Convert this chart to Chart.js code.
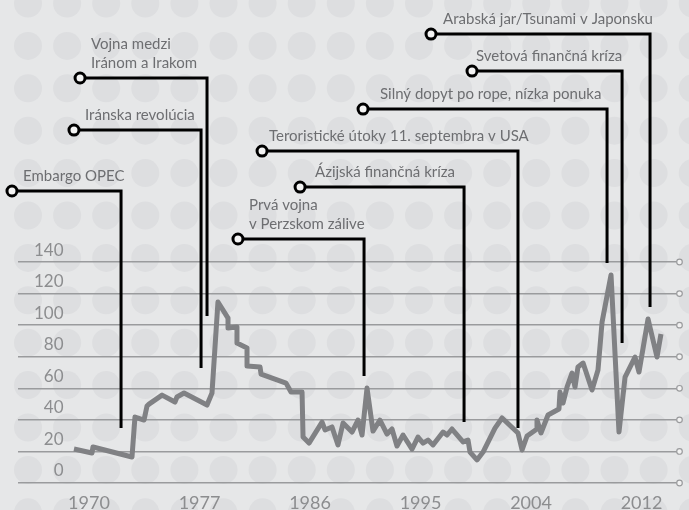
<!DOCTYPE html>
<html>
<head>
<meta charset="utf-8">
<script src="https://cdn.jsdelivr.net/npm/chart.js@4"></script>
<style>
  html, body { margin: 0; padding: 0; background: #e6e7e8; }
</style>
</head>
<body>
<canvas id="myChart" width="689" height="510"></canvas>
<script>
// x runs in label steps: 0 = 1970, 1 = 1977, 2 = 1986 ... 5 = 2012
const yearLabels = ['1970', '1977', '1986', '1995', '2004', '2012'];
const valueTicks = [0, 20, 40, 60, 80, 100, 120, 140];

const priceX = [-0.136, 0.027, 0.036, 0.389, 0.416, 0.498, 0.525, 0.543, 0.661, 0.778, 0.796, 0.860,
  1.068, 1.113, 1.167, 1.258, 1.258, 1.339, 1.339, 1.430, 1.430, 1.548, 1.557, 1.783, 1.828, 1.928,
  1.937, 1.991, 2.109, 2.136, 2.199, 2.253, 2.299, 2.380, 2.434, 2.471, 2.516, 2.570, 2.633, 2.697,
  2.742, 2.787, 2.842, 2.923, 2.977, 3.023, 3.068, 3.113, 3.204, 3.240, 3.285, 3.385, 3.430, 3.448,
  3.511, 3.566, 3.674, 3.738, 3.882, 3.919, 3.964, 4.054, 4.054, 4.090, 4.154, 4.253, 4.262, 4.290,
  4.326, 4.371, 4.398, 4.425, 4.471, 4.552, 4.606, 4.643, 4.724, 4.796, 4.851, 4.941, 4.977, 5.059,
  5.140, 5.176];
const priceY = [21.5, 19.0, 22.8, 16.5, 41.8, 39.9, 48.8, 50.0, 55.7, 51.3, 54.5, 57.0,
  49.4, 57.0, 114.7, 104.5, 98.2, 98.8, 88.7, 85.5, 74.1, 73.5, 69.0, 63.3, 57.6, 57.6,
  29.1, 25.3, 38.6, 33.6, 35.5, 24.1, 38.0, 32.3, 39.9, 30.4, 60.2, 32.9, 39.9, 31.0,
  34.2, 23.4, 30.4, 21.5, 29.1, 25.3, 27.2, 24.1, 32.3, 30.4, 34.2, 26.0, 27.2, 19.6,
  14.6, 19.6, 34.8, 41.2, 31.7, 20.9, 29.8, 34.2, 39.9, 31.7, 43.1, 46.9, 57.6, 50.7,
  60.8, 69.7, 60.8, 73.5, 76.0, 58.9, 71.6, 102.0, 131.8, 32.3, 67.1, 79.8, 70.3, 103.9,
  79.8, 94.4];

// events: text lines, where the marker starts, where the text starts,
// height of the leader line, the event itself and the value where the leader stops
const eventNames = [
  ['Embargo OPEC'],
  ['Iránska revolúcia'],
  ['Vojna medzi', 'Iránom a Irakom'],
  ['Prvá vojna', 'v Perzskom zálive'],
  ['Ázijská finančná kríza'],
  ['Teroristické útoky 11. septembra v USA'],
  ['Silný dopyt po rope, nízka ponuka'],
  ['Svetová finančná kríza'],
  ['Arabská jar/Tsunami v Japonsku']
];
const eventStart = [-0.697, -0.136, -0.081, 1.348, 1.910, 1.566, 2.480, 3.466, 3.095];
const eventTextX = [-0.597, -0.036, 0.018, 1.448, 2.045, 1.629, 2.633, 3.502, 3.204];
const eventLevel = [185.0, 223.6, 256.6, 154.6, 187.5, 210.3, 236.9, 261.0, 284.4];
const eventX = [0.290, 1.014, 1.068, 2.489, 3.394, 3.882, 4.688, 4.824, 5.077];
const eventTip = [34.8, 72.8, 105.8, 67.8, 38.6, 34.8, 139.4, 88.7, 111.5];

const dotBackground = {
  id: 'dotBackground',
  beforeDraw(chart) {
    const c = chart.ctx;
    c.save();
    c.fillStyle = '#e6e7e8';
    c.fillRect(0, 0, chart.width, chart.height);
    c.fillStyle = '#dddee0';
    for (let y = 3.5; y < chart.height + 20; y += 42.4) {
      for (let x = 28; x < chart.width + 20; x += 39.1) {
        c.beginPath();
        c.arc(x, y, 14, 0, Math.PI * 2);
        c.fill();
      }
    }
    c.restore();
  }
};

const gridEnds = {
  id: 'gridEnds',
  afterDatasetsDraw(chart) {
    const c = chart.ctx;
    const ys = chart.scales.y;
    c.save();
    c.strokeStyle = '#9a9b9d';
    c.fillStyle = '#f2f2f2';
    c.lineWidth = 1.2;
    valueTicks.forEach(v => {
      c.beginPath();
      c.arc(chart.chartArea.right + 2.5, ys.getPixelForValue(v), 2.8, 0, Math.PI * 2);
      c.fill();
      c.stroke();
    });
    c.restore();
  }
};

const eventLines = {
  id: 'eventLines',
  afterDatasetsDraw(chart) {
    const c = chart.ctx;
    const xs = chart.scales.x, ys = chart.scales.y;
    c.save();
    c.lineWidth = 3;
    c.strokeStyle = '#000';
    c.lineJoin = 'miter';
    eventNames.forEach((lines, i) => {
      const x0 = xs.getPixelForValue(eventStart[i]);
      const x1 = xs.getPixelForValue(eventX[i]);
      const y0 = ys.getPixelForValue(eventLevel[i]);
      const y1 = ys.getPixelForValue(eventTip[i]);
      c.beginPath();
      c.moveTo(x0 + 5, y0);
      c.lineTo(x1, y0);
      c.lineTo(x1, y1);
      c.stroke();
      c.beginPath();
      c.arc(x0, y0, 5, 0, Math.PI * 2);
      c.fillStyle = '#f4f4f4';
      c.fill();
      c.stroke();
      c.fillStyle = '#6d6e71';
      c.font = '15px Lato';
      c.textBaseline = 'alphabetic';
      const tx = xs.getPixelForValue(eventTextX[i]);
      lines.forEach((t, k) => {
        c.fillText(t, tx, y0 - 10 - (lines.length - 1 - k) * 19);
      });
    });
    c.restore();
  }
};

const ctx = document.getElementById('myChart');

new Chart(ctx, {
  type: 'line',
  data: {
    datasets: [{
      data: priceX.map((x, i) => ({ x: x, y: priceY[i] })),
      borderColor: '#808184',
      borderWidth: 5,
      pointRadius: 0,
      tension: 0,
      borderJoinStyle: 'round'
    }]
  },
  options: {
    responsive: false,
    animation: false,
    devicePixelRatio: 1,
    layout: { padding: { left: 18, right: 12, top: 0, bottom: 0 } },
    plugins: { legend: { display: false }, tooltip: { enabled: false } },
    scales: {
      x: {
        type: 'linear',
        min: -0.6425,
        max: 5.321,
        afterBuildTicks: s => { s.ticks = yearLabels.map((_, i) => ({ value: i })); },
        afterFit: s => { s.height = 27; s.paddingLeft = 0; s.paddingRight = 0; },
        grid: { display: false, drawTicks: false },
        border: { display: false },
        ticks: {
          autoSkip: false,
          maxRotation: 0,
          padding: 9,
          color: '#8c8d8f',
          font: { family: 'Lato', size: 18 },
          callback: v => yearLabels[v]
        }
      },
      y: {
        min: 0,
        max: 306,
        afterBuildTicks: s => { s.ticks = valueTicks.map(v => ({ value: v })); },
        afterFit: s => { s.width = 0; s.paddingTop = 0; s.paddingBottom = 0; },
        grid: { color: '#9a9b9d', lineWidth: 1.5, drawTicks: false },
        border: { display: false },
        ticks: {
          mirror: true,
          crossAlign: 'far',
          padding: 16,
          labelOffset: -12,
          color: '#8c8d8f',
          font: { family: 'Lato', size: 17 }
        }
      }
    }
  },
  plugins: [dotBackground, gridEnds, eventLines]
});
</script>
</body>
</html>
